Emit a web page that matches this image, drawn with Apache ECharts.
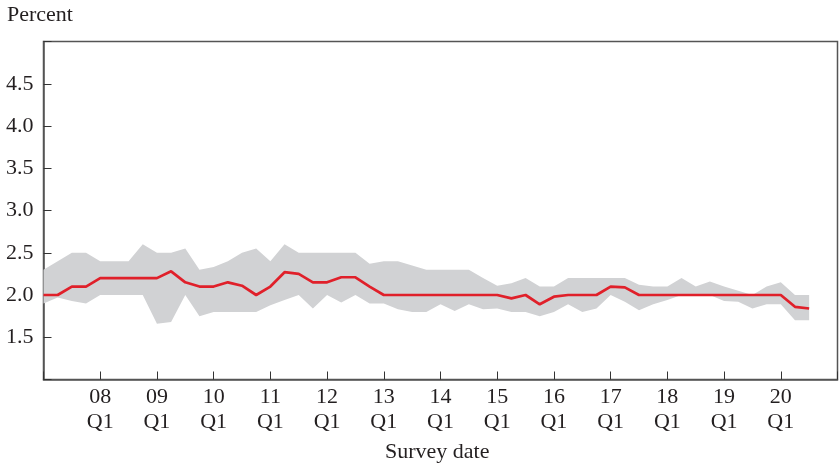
<!DOCTYPE html>
<html>
<head>
<meta charset="utf-8">
<script src="https://cdn.jsdelivr.net/npm/echarts@6/dist/echarts.min.js"></script>
<style>
html,body{margin:0;padding:0;background:#fff;}
#c{width:839px;height:466px;}
</style>
</head>
<body>
<div id="c"></div>
<script>
// Quarterly survey dates from 2007 Q1 to 2021 Q1 (axis); data run 2007 Q1 ... 2020 Q3
const startYear = 2007, quarterCount = 57;
const median = [2.0,2.0,2.1,2.1,2.2,2.2,2.2,2.2,2.2,2.28,2.15,2.1,2.1,2.15,2.11,2.0,2.1,2.27,2.25,2.15,2.15,2.21,2.21,2.1,2.0,
  2.0,2.0,2.0,2.0,2.0,2.0,2.0,2.0,1.96,2.0,1.89,1.98,2.0,2.0,2.0,2.1,2.09,
  2.0,2.0,2.0,2.0,2.0,2.0,2.0,2.0,2.0,2.0,2.0,1.86,1.84];
const upper = [2.3,2.4,2.5,2.5,2.4,2.4,2.4,2.6,2.5,2.5,2.55,2.3,2.33,2.4,2.5,2.55,2.4,2.6,2.5,2.5,2.5,2.5,2.5,2.37,2.4,
  2.4,2.35,2.3,2.3,2.3,2.3,2.2,2.11,2.14,2.2,2.1,2.1,2.2,2.2,2.2,2.2,2.2,
  2.12,2.1,2.1,2.2,2.1,2.16,2.1,2.05,2.0,2.1,2.15,2.0,2.0];
const lower = [1.9,1.97,1.93,1.9,2.0,2.0,2.0,2.0,1.66,1.68,2.0,1.75,1.8,1.8,1.8,1.8,1.88,1.94,2.0,1.84,2.0,1.91,2.0,1.9,1.9,
  1.83,1.8,1.8,1.89,1.81,1.89,1.83,1.84,1.8,1.8,1.75,1.8,1.89,1.8,1.84,2.0,1.92,
  1.82,1.89,1.94,2.0,2.0,2.0,1.93,1.92,1.84,1.89,1.89,1.7,1.7];

const categories = [];
for (let i = 0; i < quarterCount; i++) {
  const y = startYear + Math.floor(i / 4);
  categories.push(String(y % 100).padStart(2, '0') + '\nQ' + (i % 4 + 1));
}

const font = 'Liberation Serif';
const txt = '#231f20';
const chart = echarts.init(document.getElementById('c'), null, {renderer:'canvas'});
const bandData = upper.map((v,i)=> +(v - lower[i]).toFixed(4));
const showTick = (i) => i % 4 === 0;
const showLabel = (i) => i % 4 === 0 && i > 0 && i < quarterCount - 1;

chart.setOption({
  animation:false,
  backgroundColor:'#fff',
  grid:{left:43.5,top:41.5,right:1.5,bottom:86.5,show:true,borderColor:'#555',borderWidth:1.5,backgroundColor:'transparent'},
  graphic:[
    {type:'text',left:7,top:4,style:{text:'Percent',font:'22px "Liberation Serif"',fill:txt}},
    {type:'text',left:385,top:441,style:{text:'Survey date',font:'22px "Liberation Serif"',fill:txt}}
  ],
  xAxis:{
    type:'category',data:categories,boundaryGap:false,
    axisLine:{lineStyle:{color:'#555',width:1.5}},
    axisTick:{inside:true,length:8,interval:(i)=>showTick(i),lineStyle:{color:'#333',width:1}},
    splitLine:{show:false},
    axisLabel:{
      color:txt,fontFamily:font,fontSize:22,lineHeight:25,margin:5,
      interval:(i)=>showLabel(i)
    }
  },
  yAxis:{
    type:'value',min:1,max:5,interval:0.5,
    axisLine:{show:true,lineStyle:{color:'#555',width:1.5}},
    axisTick:{show:true,inside:true,length:8,lineStyle:{color:'#333',width:1}},
    splitLine:{show:false},
    axisLabel:{
      color:txt,fontFamily:font,fontSize:22,margin:10,
      formatter:function(v){ return (v < 1.25 || v > 4.75) ? '' : v.toFixed(1); }
    }
  },
  series:[
    {type:'line',data:lower,stack:'band',symbol:'none',lineStyle:{opacity:0},silent:true,z:1},
    {type:'line',data:bandData,stack:'band',symbol:'none',lineStyle:{opacity:0},areaStyle:{color:'#d1d2d4',opacity:1},silent:true,z:1},
    {type:'line',data:median,symbol:'none',lineStyle:{color:'#e0202a',width:2.7},z:3}
  ]
});
</script>
</body>
</html>
